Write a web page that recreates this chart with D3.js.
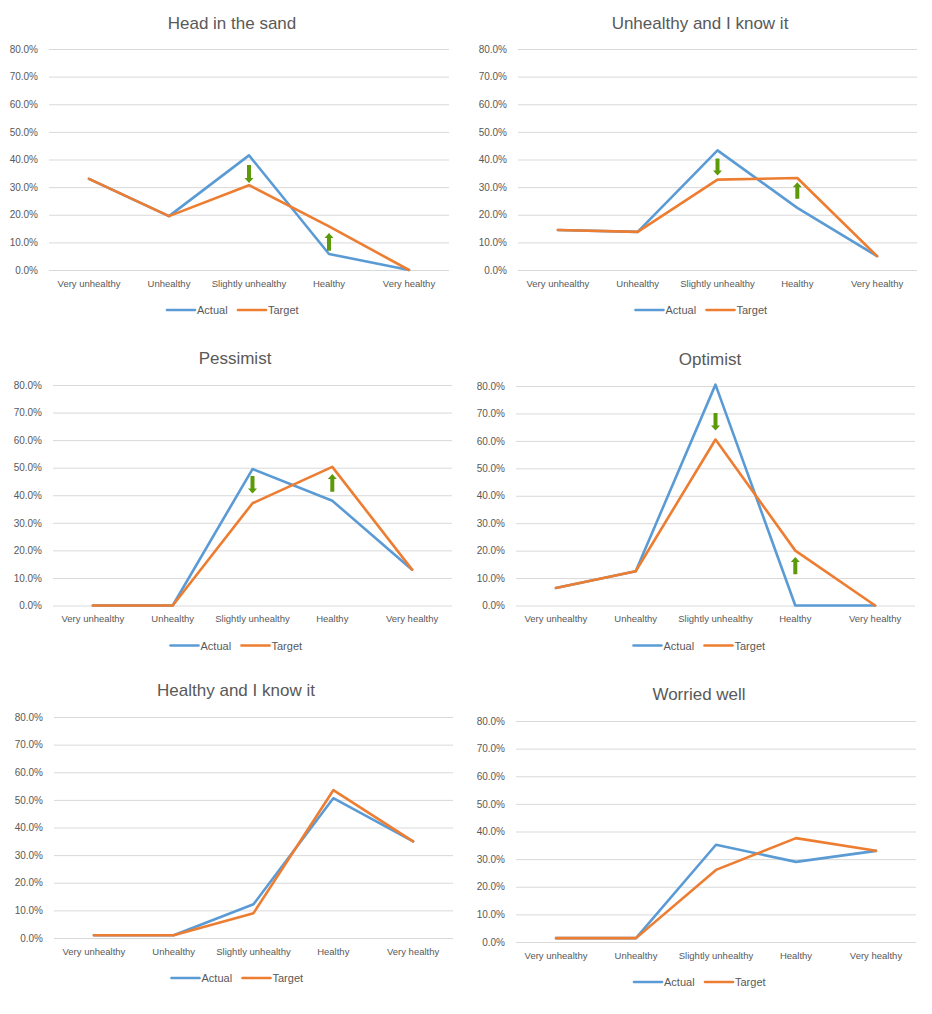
<!DOCTYPE html>
<html>
<head>
<meta charset="utf-8">
<script src="https://cdn.jsdelivr.net/npm/d3@7"></script>
<style>
  html, body { margin: 0; padding: 0; background: #ffffff; }
  svg { display: block; }
  text { font-family: "Liberation Sans", Arial, sans-serif; fill: #595959; }
</style>
</head>
<body>
<svg id="chart" width="932" height="1014"></svg>
<script>
// ---------- DATA ----------
const categories = ["Very unhealthy", "Unhealthy", "Slightly unhealthy", "Healthy", "Very healthy"];
const yTicks = [0, 0.1, 0.2, 0.3, 0.4, 0.5, 0.6, 0.7, 0.8];
const seriesNames = ["Actual", "Target"];
const titles = ["Head in the sand", "Unhealthy and I know it", "Pessimist", "Optimist", "Healthy and I know it", "Worried well"];

const actualHeadInSand   = [0.330, 0.195, 0.415, 0.058, 0.000];
const targetHeadInSand   = [0.330, 0.195, 0.307, 0.158, 0.000];
const actualUnhealthyKnow = [0.145, 0.138, 0.433, 0.225, 0.050];
const targetUnhealthyKnow = [0.145, 0.138, 0.327, 0.333, 0.050];
const actualPessimist    = [0.000, 0.000, 0.495, 0.380, 0.130];
const targetPessimist    = [0.000, 0.000, 0.371, 0.503, 0.130];
const actualOptimist     = [0.064, 0.125, 0.805, 0.000, 0.000];
const targetOptimist     = [0.064, 0.125, 0.605, 0.200, 0.000];
const actualHealthyKnow  = [0.010, 0.010, 0.122, 0.506, 0.350];
const targetHealthyKnow  = [0.010, 0.010, 0.090, 0.535, 0.350];
const actualWorriedWell  = [0.014, 0.014, 0.352, 0.290, 0.330];
const targetWorriedWell  = [0.014, 0.014, 0.261, 0.376, 0.330];

// arrows: [panel index, category, from value, to value]
const arrows = [
  [0, "Slightly unhealthy", 0.380, 0.315],
  [0, "Healthy", 0.070, 0.134],
  [1, "Slightly unhealthy", 0.404, 0.342],
  [1, "Healthy", 0.258, 0.318],
  [2, "Slightly unhealthy", 0.470, 0.406],
  [2, "Healthy", 0.413, 0.477],
  [3, "Slightly unhealthy", 0.702, 0.638],
  [3, "Healthy", 0.114, 0.177]
];

// ---------- LAYOUT ----------
const panelData = [
  [actualHeadInSand, targetHeadInSand],
  [actualUnhealthyKnow, targetUnhealthyKnow],
  [actualPessimist, targetPessimist],
  [actualOptimist, targetOptimist],
  [actualHealthyKnow, targetHealthyKnow],
  [actualWorriedWell, targetWorriedWell]
];
// plot rectangles: x0, x1, yTop (80%), yBottom (0%), title x, title y
const layout = [
  {x0: 49,  x1: 449, yT: 49,  yB: 270, tx: 232, ty: 23},
  {x0: 518, x1: 917, yT: 49,  yB: 270, tx: 700, ty: 23},
  {x0: 53,  x1: 452, yT: 385, yB: 605.5, tx: 235, ty: 358},
  {x0: 516, x1: 915, yT: 386, yB: 605.5, tx: 710, ty: 359},
  {x0: 54,  x1: 453, yT: 717, yB: 938, tx: 236, ty: 690},
  {x0: 516, x1: 916, yT: 721, yB: 942, tx: 699, ty: 694}
];
const colors = {Actual: "#5b9bd5", Target: "#ed7d31"};
const arrowColor = "#5c9a0a";

const svg = d3.select("#chart");

layout.forEach((L, i) => {
  const g = svg.append("g");
  const x = d3.scaleBand().domain(categories).range([L.x0, L.x1]);
  const y = d3.scaleLinear().domain([0, 0.8]).range([L.yB, L.yT]);
  const cx = c => x(c) + x.bandwidth() / 2;

  // title
  g.append("text")
    .attr("x", L.tx).attr("y", L.ty)
    .attr("text-anchor", "middle").attr("dominant-baseline", "central")
    .style("font-size", "17px")
    .text(titles[i]);

  // gridlines + y tick labels
  const yAxis = d3.axisLeft(y).tickValues(yTicks).tickFormat(d3.format(".1%"))
    .tickSize(-(L.x1 - L.x0)).tickPadding(11);
  const ya = g.append("g").attr("transform", `translate(${L.x0},0)`).call(yAxis);
  ya.select(".domain").remove();
  ya.selectAll(".tick line").attr("stroke", "#d9d9d9").attr("stroke-width", 1);
  ya.selectAll(".tick text").style("font-size", "10px").attr("fill", "#595959")
    .style("font-family", "'Liberation Sans', Arial, sans-serif");

  // x category labels
  const xAxis = d3.axisBottom(x).tickSize(0).tickPadding(10);
  const xa = g.append("g").attr("transform", `translate(0,${L.yB})`).call(xAxis);
  xa.select(".domain").remove();
  xa.selectAll(".tick text").style("font-size", "9.5px").attr("fill", "#595959")
    .style("font-family", "'Liberation Sans', Arial, sans-serif");

  // lines
  const line = d3.line().x((d, k) => cx(categories[k])).y(d => y(d));
  panelData[i].forEach((vals, s) => {
    g.append("path")
      .datum(vals)
      .attr("d", line)
      .attr("fill", "none")
      .attr("stroke", colors[seriesNames[s]])
      .attr("stroke-width", 2.6)
      .attr("stroke-linejoin", "round")
      .attr("stroke-linecap", "round");
  });

  // arrows
  arrows.filter(a => a[0] === i).forEach(a => {
    const ax = cx(a[1]);
    const yFrom = y(a[2]), yTo = y(a[3]);
    const dir = yTo > yFrom ? 1 : -1; // 1 = pointing down
    const head = 5, sw = 2, hw = 4.5;
    const yNeck = yTo - dir * head;
    const pts = [
      [ax - sw, yFrom], [ax + sw, yFrom], [ax + sw, yNeck], [ax + hw, yNeck],
      [ax, yTo], [ax - hw, yNeck], [ax - sw, yNeck]
    ];
    g.append("path")
      .attr("d", d3.line()(pts) + "Z")
      .attr("fill", arrowColor);
  });

  // legend
  const mid = (L.x0 + L.x1) / 2;
  const ly = L.yB + 40;
  const legend = g.append("g");
  const items = [{name: "Actual", lx: mid - 82}, {name: "Target", lx: mid - 11}];
  items.forEach(it => {
    legend.append("line")
      .attr("x1", it.lx).attr("x2", it.lx + 28)
      .attr("y1", ly).attr("y2", ly)
      .attr("stroke", colors[it.name]).attr("stroke-width", 2.6)
      .attr("stroke-linecap", "round");
    legend.append("text")
      .attr("x", it.lx + 30).attr("y", ly)
      .attr("dominant-baseline", "central")
      .style("font-size", "11px")
      .text(it.name);
  });
});
</script>
</body>
</html>
